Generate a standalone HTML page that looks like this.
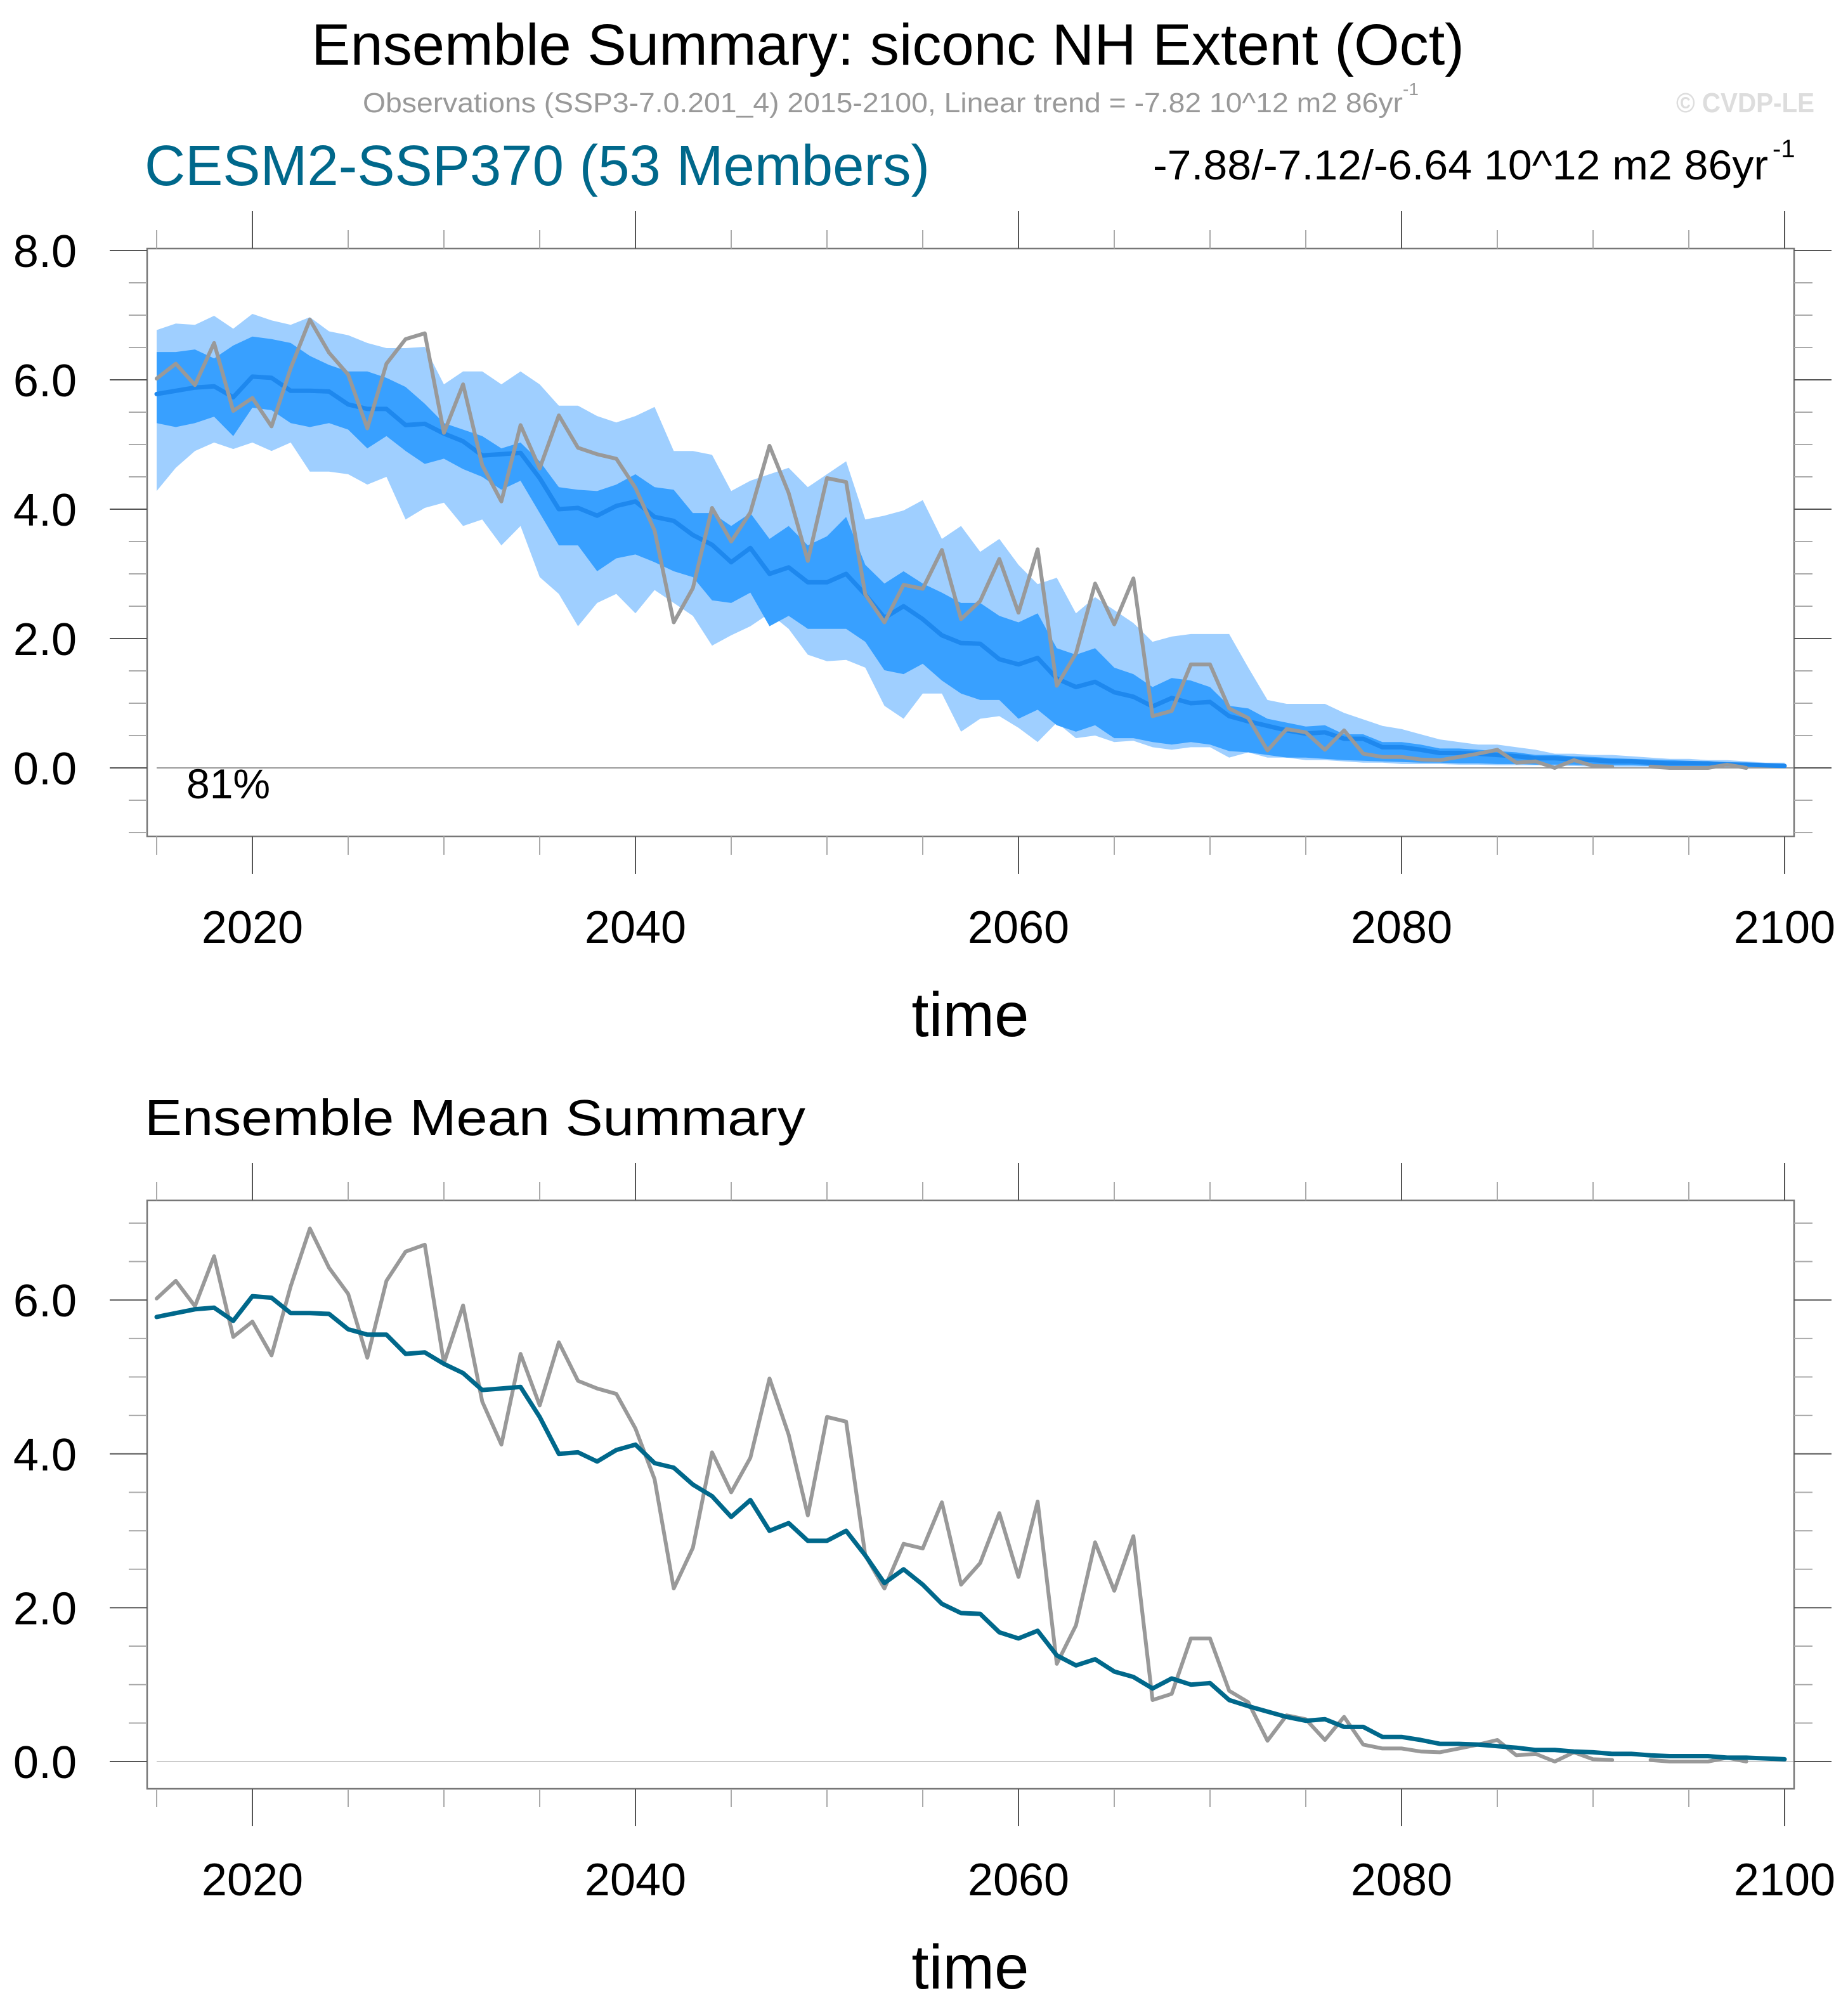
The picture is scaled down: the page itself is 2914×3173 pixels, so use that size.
<!DOCTYPE html>
<html><head><meta charset="utf-8"><style>
html,body{margin:0;padding:0;background:#fff;}
svg{display:block;font-family:"Liberation Sans",sans-serif;}
</style></head><body>
<svg id="chart" xmlns="http://www.w3.org/2000/svg" width="2914" height="3173" viewBox="0 0 2914 3173">
<rect width="2914" height="3173" fill="#fff"/>
<text x="491" y="102" font-size="92" textLength="1818" lengthAdjust="spacingAndGlyphs" fill="#000">Ensemble Summary: siconc NH Extent (Oct)</text>
<text x="572" y="177" font-size="44" fill="#999" textLength="1640" lengthAdjust="spacingAndGlyphs">Observations (SSP3-7.0.201_4) 2015-2100, Linear trend = -7.82 10^12 m2 86yr</text>
<text x="2212" y="150" font-size="28" fill="#999">-1</text>
<text x="2643" y="177" font-size="44" font-weight="bold" fill="#ddd" textLength="218" lengthAdjust="spacingAndGlyphs">© CVDP-LE</text>
<text x="228" y="292" font-size="90" fill="#00688B" textLength="1238" lengthAdjust="spacingAndGlyphs">CESM2-SSP370 (53 Members)</text>
<text x="1818" y="283" font-size="66" fill="#000" textLength="970" lengthAdjust="spacingAndGlyphs">-7.88/-7.12/-6.64 10^12 m2 86yr</text>
<text x="2795" y="248" font-size="40" fill="#000">-1</text>
<text x="228" y="1790" font-size="80" fill="#000" textLength="1042" lengthAdjust="spacingAndGlyphs">Ensemble Mean Summary</text>
<g id="top"></g>
<g id="bot"></g>
</svg>
<script>
const years = [];
for (let y = 2015; y <= 2100; y++) years.push(y);
const obs = [6.02,6.25,5.92,6.57,5.52,
5.72,5.28,6.18,6.93,6.42,6.08,5.25,6.25,6.63,6.72,
5.18,5.93,4.68,4.12,5.30,4.63,5.45,4.95,4.85,4.78,
4.33,3.67,2.25,2.78,4.02,3.50,3.95,4.98,4.25,3.20,
4.48,4.42,2.68,2.25,2.83,2.77,3.37,2.30,2.58,3.23,
2.40,3.38,1.27,1.77,2.85,2.22,2.93,0.80,0.88,1.60,
1.60,0.92,0.77,0.27,0.60,0.55,0.28,0.58,0.22,0.17,
0.17,0.13,0.12,0.17,0.22,0.28,0.08,0.10,0.00,0.12,
0.03,0.02,null,0.02,0.00,0.00,0.00,0.05,0.00,null,null];
const ensMean = [5.78,5.83,5.88,5.90,5.73,
6.05,6.03,5.83,5.83,5.82,5.62,5.55,5.55,5.30,5.32,
5.17,5.05,4.83,4.85,4.87,4.48,4.00,4.02,3.90,4.05,
4.12,3.88,3.82,3.60,3.45,3.18,3.40,3.00,3.10,2.87,
2.87,3.00,2.68,2.32,2.50,2.30,2.05,1.93,1.92,1.68,
1.60,1.70,1.38,1.25,1.33,1.17,1.10,0.95,1.08,1.00,
1.02,0.80,0.72,0.65,0.58,0.53,0.55,0.45,0.45,0.32,
0.32,0.28,0.23,0.23,0.22,0.20,0.18,0.15,0.15,0.13,
0.12,0.10,0.10,0.08,0.07,0.07,0.07,0.05,0.05,0.04,0.03];
const darkUp = [6.43,6.43,6.47,6.33,6.53,
6.67,6.63,6.57,6.37,6.23,6.13,6.13,6.03,5.89,5.63,
5.33,5.23,5.13,4.94,5.03,4.74,4.34,4.30,4.28,4.38,
4.54,4.34,4.30,3.94,3.94,3.74,3.94,3.54,3.74,3.44,
3.58,3.88,3.14,2.85,3.04,2.85,2.71,2.55,2.55,2.35,
2.25,2.39,1.85,1.75,1.85,1.55,1.45,1.25,1.39,1.35,
1.25,0.96,0.92,0.76,0.70,0.64,0.66,0.52,0.52,0.40,
0.40,0.36,0.30,0.30,0.28,0.26,0.24,0.20,0.20,0.18,
0.17,0.15,0.14,0.13,0.12,0.11,0.10,0.09,0.08,0.07,0.06];
const darkLo = [5.33,5.27,5.33,5.43,5.13,
5.57,5.53,5.33,5.27,5.33,5.23,4.94,5.13,4.90,4.70,
4.78,4.62,4.50,4.30,4.44,3.94,3.44,3.44,3.04,3.24,
3.30,3.18,3.04,2.95,2.59,2.55,2.71,2.19,2.35,2.15,
2.15,2.15,1.95,1.51,1.45,1.61,1.35,1.15,1.05,1.05,
0.76,0.90,0.66,0.56,0.66,0.46,0.46,0.40,0.36,0.40,
0.36,0.26,0.24,0.20,0.16,0.16,0.14,0.12,0.11,0.10,
0.09,0.08,0.08,0.07,0.07,0.06,0.06,0.05,0.05,0.05,
0.04,0.04,0.04,0.03,0.03,0.03,0.03,0.02,0.02,0.02,0.02];
const lightUp = [6.77,6.87,6.85,6.99,6.79,
7.02,6.92,6.85,6.97,6.75,6.69,6.57,6.49,6.49,6.51,
5.93,6.13,6.13,5.93,6.13,5.93,5.60,5.60,5.44,5.34,
5.44,5.58,4.90,4.90,4.84,4.28,4.44,4.54,4.64,4.34,
4.54,4.74,3.84,3.90,3.98,4.14,3.54,3.74,3.34,3.54,
3.14,2.84,2.94,2.39,2.64,2.44,2.24,1.95,2.03,2.07,
2.07,2.07,1.55,1.05,0.99,0.99,0.99,0.85,0.75,0.65,
0.60,0.52,0.44,0.40,0.36,0.36,0.32,0.28,0.22,0.22,
0.20,0.20,0.18,0.16,0.14,0.14,0.12,0.12,0.10,0.08,0.08];
const lightLo = [4.28,4.64,4.90,5.03,4.93,
5.03,4.90,5.03,4.58,4.58,4.54,4.38,4.50,3.84,4.02,
4.10,3.74,3.84,3.44,3.74,2.95,2.69,2.19,2.55,2.69,
2.39,2.75,2.55,2.35,1.89,2.05,2.19,2.39,2.15,1.75,
1.65,1.67,1.55,0.96,0.76,1.15,1.15,0.56,0.76,0.80,
0.62,0.40,0.70,0.46,0.50,0.40,0.42,0.32,0.28,0.32,
0.32,0.16,0.24,0.16,0.16,0.12,0.12,0.10,0.08,0.08,
0.06,0.06,0.06,0.05,0.05,0.04,0.04,0.04,0.03,0.03,
0.02,0.02,0.02,0.02,0.02,0.01,0.01,0.01,0.01,0.01,0.01];
const xTickLabels = ["2020","2040","2060","2080","2100"];
const topYTickLabels = ["0.0","2.0","4.0","6.0","8.0"];
const botYTickLabels = ["0.0","2.0","4.0","6.0"];
const pctLabel = "81%";

const NS = "http://www.w3.org/2000/svg";
function mk(parent, tag, attrs) {
  const e = document.createElementNS(NS, tag);
  for (const k in attrs) e.setAttribute(k, attrs[k]);
  parent.appendChild(e);
  return e;
}
const X0 = 232, X1 = 2829;
function xScale(yr) { return 247 + (yr - 2015) * 30.2; }

function drawPanel(g, cfg) {
  const yS = v => cfg.zeroY - v * cfg.unit;
  // frame background
  const fr = mk(g, 'rect', {x: X0, y: cfg.top, width: X1 - X0, height: cfg.bot - cfg.top, fill: '#fff', stroke: 'none'});
  
  
  // zero line
  const zl = mk(g, 'line', {x1: 247, x2: X1, y1: yS(0), y2: yS(0), stroke: cfg.zeroColor, 'stroke-width': 2});
  
  
  if (cfg.bands) {
    const band = (up, lo, color, name) => {
      let d = '';
      years.forEach((yr, i) => { d += (i ? 'L' : 'M') + xScale(yr).toFixed(1) + ' ' + yS(up[i]).toFixed(1); });
      for (let i = years.length - 1; i >= 0; i--) d += 'L' + xScale(years[i]).toFixed(1) + ' ' + yS(lo[i]).toFixed(1);
      const p = mk(g, 'path', {d: d + 'Z', fill: color});
      
      
    };
    band(lightUp, lightLo, '#9FCFFF', 'outer-spread-band');
    band(darkUp, darkLo, '#38A0FF', 'inner-spread-band');
  }
  const line = (vals, color, w, name) => {
    let d = '', pen = false;
    vals.forEach((v, i) => {
      if (v === null) { pen = false; return; }
      d += (pen ? 'L' : 'M') + xScale(years[i]).toFixed(1) + ' ' + yS(v).toFixed(1);
      pen = true;
    });
    const p = mk(g, 'path', {d: d, fill: 'none', stroke: color, 'stroke-width': w, 'stroke-linejoin': 'round', 'stroke-linecap': 'round'});
    
    
  };
  if (cfg.bands) { line(ensMean, '#1E88EE', 7, 'ensemble-mean-line'); line(obs, '#999999', 6, 'observations-line'); }
  else { line(obs, '#999999', 6, 'observations-line'); line(ensMean, '#00688B', 7, 'ensemble-mean-line'); }
  // frame
  const fb = mk(g, 'rect', {x: X0, y: cfg.top, width: X1 - X0, height: cfg.bot - cfg.top, fill: 'none', stroke: '#777', 'stroke-width': 2.5});
  
  
  // y ticks
  for (let v = cfg.minTick; v <= cfg.maxTick + 1e-6; v += 0.5) {
    const major = Math.abs(v / 2 - Math.round(v / 2)) < 1e-6;
    const y = yS(v);
    const len = major ? 59 : 29;
    const c = major ? '#555' : '#aaa';
    const t1 = mk(g, 'line', {x1: X0 - len, x2: X0, y1: y, y2: y, stroke: c, 'stroke-width': 2});
    
    
    const t2 = mk(g, 'line', {x1: X1, x2: X1 + len, y1: y, y2: y, stroke: c, 'stroke-width': 2});
    
    
  }
  cfg.yLabels.forEach(lab => {
    const t = mk(g, 'text', {x: 121, y: yS(parseFloat(lab)) + 26, 'font-size': 72, 'text-anchor': 'end', fill: '#000'});
    t.textContent = lab;
    
    
  });
  // x ticks
  for (let yr = 2015; yr <= 2100; yr += 5) {
    const major = yr % 20 === 0;
    const x = xScale(yr);
    const len = major ? 59 : 29;
    const c = major ? '#555' : '#aaa';
    const a = mk(g, 'line', {x1: x, x2: x, y1: cfg.top - len, y2: cfg.top, stroke: c, 'stroke-width': 2});
    
    
    const b = mk(g, 'line', {x1: x, x2: x, y1: cfg.bot, y2: cfg.bot + len, stroke: c, 'stroke-width': 2});
    
    
  }
  xTickLabels.forEach(lab => {
    const t = mk(g, 'text', {x: xScale(parseInt(lab)), y: cfg.bot + 168, 'font-size': 72, 'text-anchor': 'middle', fill: '#000'});
    t.textContent = lab;
    
    
  });
  const xt = mk(g, 'text', {x: 1530, y: cfg.bot + 315, 'font-size': 98, 'text-anchor': 'middle', fill: '#000'});
  xt.textContent = 'time';
  
  
}
drawPanel(document.getElementById('top'), {top: 392, bot: 1319, zeroY: 1211, unit: 102, minTick: -1, maxTick: 8, yLabels: topYTickLabels, bands: true, zeroColor: '#999'});
drawPanel(document.getElementById('bot'), {top: 1893, bot: 2821, zeroY: 2778, unit: 121.3, minTick: 0, maxTick: 7, yLabels: botYTickLabels, bands: false, zeroColor: '#ccc'});
const pt = mk(document.getElementById('top'), 'text', {x: 294, y: 1259, 'font-size': 66, fill: '#000'});
pt.textContent = pctLabel;


</script>
</body></html>
